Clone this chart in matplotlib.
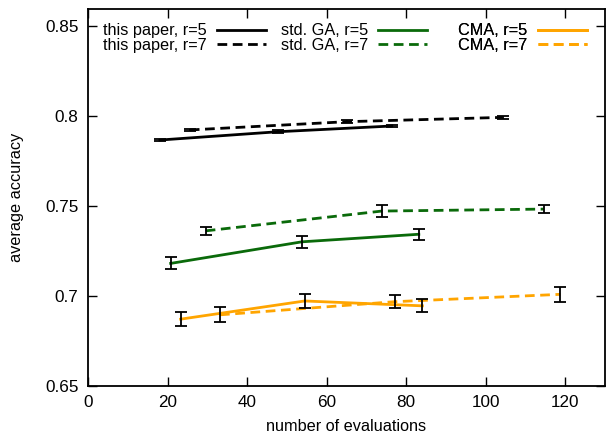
import numpy as np
import matplotlib.pyplot as plt

plt.rcParams['font.family'] = ['Liberation Sans', 'DejaVu Sans']
plt.rcParams['font.size'] = 11.7

# average accuracy vs. number of evaluations, mean +- error
ours_r5_x = [18.1, 47.7, 76.4]
ours_r5_y = [0.7866, 0.7912, 0.7944]
ours_r5_e = [0.0008, 0.0008, 0.0008]
ours_r7_x = [25.6, 65.1, 104.3]
ours_r7_y = [0.7922, 0.7968, 0.7992]
ours_r7_e = [0.0008, 0.0008, 0.0008]

ga_r5_x = [20.8, 53.8, 83.2]
ga_r5_y = [0.7180, 0.7300, 0.7342]
ga_r5_e = [0.0033, 0.0035, 0.0030]
ga_r7_x = [29.6, 73.9, 114.6]
ga_r7_y = [0.7361, 0.7471, 0.7482]
ga_r7_e = [0.0021, 0.0034, 0.0021]

cma_r5_x = [23.3, 54.5, 84.1]
cma_r5_y = [0.6870, 0.6971, 0.6944]
cma_r5_e = [0.0037, 0.0037, 0.0037]
cma_r7_x = [33.2, 77.1, 118.8]
cma_r7_y = [0.6894, 0.6967, 0.7008]
cma_r7_e = [0.0041, 0.0036, 0.0042]

green = '#0a6a0a'
orange = '#ffa500'
dash = (0, (3.5, 2))

fig = plt.figure(figsize=(6.11, 4.36), dpi=100)
ax = fig.add_axes([0.144, 0.1154, 0.846, 0.8633])

series = [
    (ours_r5_x, ours_r5_y, ours_r5_e, 'black', '-', 'this paper, r=5'),
    (ours_r7_x, ours_r7_y, ours_r7_e, 'black', dash, 'this paper, r=7'),
    (ga_r5_x, ga_r5_y, ga_r5_e, green, '-', 'std. GA, r=5'),
    (ga_r7_x, ga_r7_y, ga_r7_e, green, dash, 'std. GA, r=7'),
    (cma_r5_x, cma_r5_y, cma_r5_e, orange, '-', 'CMA, r=5'),
    (cma_r7_x, cma_r7_y, cma_r7_e, orange, dash, 'CMA, r=7'),
]

handles = []
for x, y, e, c, ls, lab in series:
    h, = ax.plot(x, y, color=c, ls=ls, lw=2, label=lab, zorder=2)
    handles.append(h)
    ax.errorbar(x, y, yerr=e, fmt='none', ecolor='black', elinewidth=1.3,
                capsize=4, capthick=1.3, zorder=3)

ax.set_xlim(0, 130)
ax.set_ylim(0.65, 0.8593)
ax.set_xticks(np.arange(0, 121, 20))
ax.set_yticks([0.65, 0.7, 0.75, 0.8, 0.85])
ax.set_yticklabels(['0.65', '0.7', '0.75', '0.8', '0.85'])
ax.tick_params(direction='in', length=6.8, width=1, top=True, right=True,
               pad=7, labelsize=12.3)
for s in ax.spines.values():
    s.set_linewidth(1.3)

ax.set_xlabel('number of evaluations', labelpad=6)
ax.set_ylabel('average accuracy', labelpad=15)

# one legend per method, line sample to the right of the text
anchors = [0.344, 0.656, 0.965]
for i, xa in enumerate(anchors):
    leg = ax.legend(handles=handles[2*i:2*i+2], loc='upper right',
                    bbox_to_anchor=(xa, 0.963), frameon=False, markerfirst=False,
                    handlelength=3.0, handletextpad=0.65, labelspacing=-0.03,
                    borderpad=0, borderaxespad=0)
    ax.add_artist(leg)

fig.savefig('out.png', dpi=100)
